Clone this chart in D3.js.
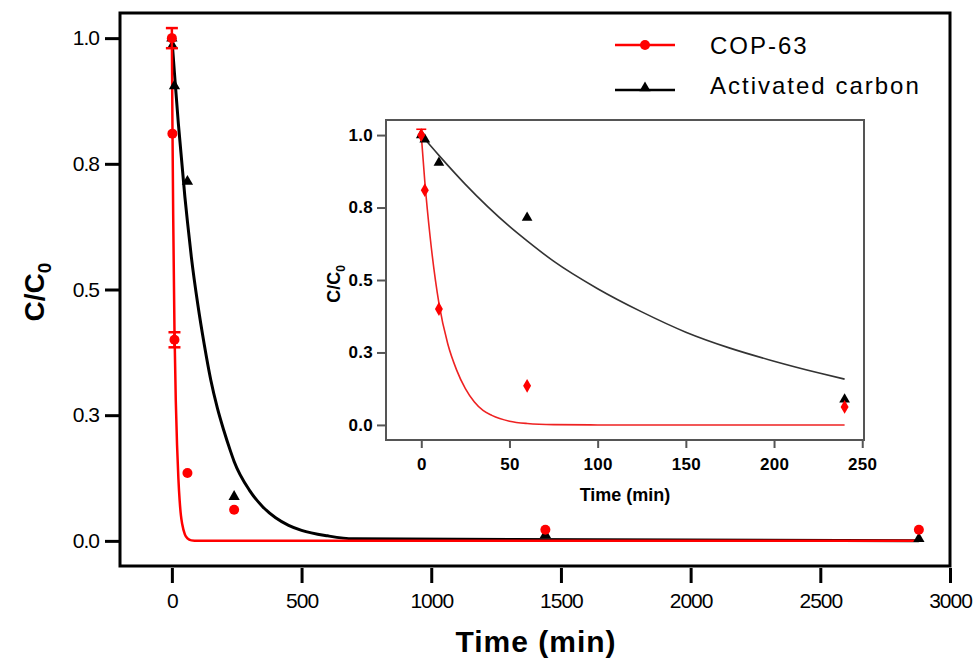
<!DOCTYPE html>
<head>
<meta charset="utf-8">
<title></title>
<style>
body { margin: 0; background: #fff; }
text { font-family: "Liberation Sans", Arial, sans-serif; fill: #000; }
.main-axis text { font-size: 21px; letter-spacing: -1px; }
.main-axis line { stroke: #000; stroke-width: 3px; }
.inset-axis text { font-size: 17px; font-weight: bold; letter-spacing: 0.3px; }
.inset-axis line { stroke: #555; stroke-width: 2px; }
</style>
</head>
<body>
<script src="https://cdn.jsdelivr.net/npm/d3@7/dist/d3.min.js"></script>
<script>

// measured points (time in min, C/C0)
var times = [0, 2, 10, 60, 240, 1440, 2880];
var copValues = [1.0, 0.81, 0.40, 0.135, 0.062, 0.022, 0.022];
var copErrors = [0.02, 0, 0.015, 0, 0, 0, 0];
var carbonValues = [1.0, 0.985, 0.905, 0.715, 0.088, 0.012, 0.004];

// fitted curves
var copFitTimes = [0, 2, 5, 10, 15, 20, 25, 30, 35, 40, 50, 60, 75, 100, 240, 2880];
var copFitValues = [1.0, 0.84, 0.65, 0.42, 0.28, 0.19, 0.125, 0.08, 0.05, 0.033, 0.013, 0.005, 0.001, 0, 0, 0];
var carbonFitTimes = [0, 10, 25, 50, 60, 75, 100, 125, 150, 175, 200, 225, 240, 300, 350, 400, 450, 500, 600, 700, 2880];
var carbonFitValues = [1.0, 0.93, 0.83, 0.685, 0.635, 0.565, 0.47, 0.39, 0.32, 0.265, 0.22, 0.18, 0.158, 0.1, 0.068, 0.046, 0.031, 0.021, 0.01, 0.004, 0];

// ticks
var yTicks = [0, 0.25, 0.5, 0.75, 1.0];
var yTickLabels = ["0.0", "0.3", "0.5", "0.8", "1.0"];
var mainXTicks = [0, 500, 1000, 1500, 2000, 2500, 3000];
var insetXTicks = [0, 50, 100, 150, 200, 250];

var seriesNames = ["COP-63", "Activated carbon"];

var width = 974, height = 659;

var svg = d3.select("body").append("svg")
    .attr("width", width)
    .attr("height", height);

function toPoints(ts, vs) {
  return ts.map(function(t, i) { return {t: t, v: vs[i]}; });
}
var copPts = times.map(function(t, i) { return {t: t, v: copValues[i], e: copErrors[i]}; });
var carbonPts = toPoints(times, carbonValues);
var copFit = toPoints(copFitTimes, copFitValues);
var carbonFit = toPoints(carbonFitTimes, carbonFitValues);

// ---------- main plot ----------
var x = d3.scaleLinear().domain([-200, 3000]).range([120, 950]);
var y = d3.scaleLinear().domain([-0.05, 1.05]).range([566, 13]);

svg.append("g")
    .attr("class", "main-axis")
    .attr("transform", "translate(0,568)")
    .call(d3.axisBottom(x).tickValues(mainXTicks).tickSize(15).tickPadding(10).tickFormat(d3.format("d")))
    .call(function(g) { g.select(".domain").remove(); });

svg.append("g")
    .attr("class", "main-axis")
    .attr("transform", "translate(120,0)")
    .call(d3.axisLeft(y).tickValues(yTicks).tickSize(15).tickPadding(6)
      .tickFormat(function(d, i) { return yTickLabels[i]; }))
    .call(function(g) { g.select(".domain").remove(); });

svg.append("rect")
    .attr("x", 120).attr("y", 13)
    .attr("width", 830).attr("height", 553)
    .attr("fill", "none")
    .attr("stroke", "#000")
    .attr("stroke-width", 3);

var mainLine = d3.line()
    .x(function(d) { return x(d.t); })
    .y(function(d) { return y(d.v); })
    .curve(d3.curveMonotoneX);

svg.append("path")
    .attr("d", mainLine(carbonFit))
    .attr("fill", "none")
    .attr("stroke", "#000")
    .attr("stroke-width", 3);

svg.append("path")
    .attr("d", mainLine(copFit))
    .attr("fill", "none")
    .attr("stroke", "#ff0000")
    .attr("stroke-width", 2.5);

var tri = d3.symbol().type(d3.symbolTriangle).size(55);

svg.append("g").selectAll("path")
    .data(carbonPts)
    .enter().append("path")
    .attr("d", tri)
    .attr("transform", function(d) { return "translate(" + x(d.t) + "," + y(d.v) + ")"; })
    .attr("fill", "#000");

var errMain = svg.append("g").selectAll("g")
    .data(copPts.filter(function(d) { return d.e > 0; }))
    .enter().append("g")
    .attr("stroke", "#ff0000")
    .attr("stroke-width", 2.5);
errMain.append("line")
    .attr("x1", function(d) { return x(d.t); })
    .attr("x2", function(d) { return x(d.t); })
    .attr("y1", function(d) { return y(d.v + d.e); })
    .attr("y2", function(d) { return y(d.v - d.e); });
errMain.append("line")
    .attr("x1", function(d) { return x(d.t) - 6; })
    .attr("x2", function(d) { return x(d.t) + 6; })
    .attr("y1", function(d) { return y(d.v + d.e); })
    .attr("y2", function(d) { return y(d.v + d.e); });
errMain.append("line")
    .attr("x1", function(d) { return x(d.t) - 6; })
    .attr("x2", function(d) { return x(d.t) + 6; })
    .attr("y1", function(d) { return y(d.v - d.e); })
    .attr("y2", function(d) { return y(d.v - d.e); });

svg.append("g").selectAll("circle")
    .data(copPts)
    .enter().append("circle")
    .attr("cx", function(d) { return x(d.t); })
    .attr("cy", function(d) { return y(d.v); })
    .attr("r", 5)
    .attr("fill", "#ff0000");

// axis titles
svg.append("text")
    .attr("x", 536).attr("y", 652)
    .attr("text-anchor", "middle")
    .style("font-size", "30px")
    .style("font-weight", "bold")
    .style("letter-spacing", "1px")
    .text("Time (min)");

var yTitle = svg.append("text")
    .attr("transform", "translate(44,292) rotate(-90)")
    .attr("text-anchor", "middle")
    .style("font-size", "28px")
    .style("font-weight", "bold");
yTitle.append("tspan").text("C/C");
yTitle.append("tspan").attr("dy", 7).style("font-size", "19px").text("0");

// legend
var legend = svg.append("g").attr("transform", "translate(615,0)");
legend.append("line").attr("x1", 0).attr("x2", 60).attr("y1", 45).attr("y2", 45)
    .attr("stroke", "#ff0000").attr("stroke-width", 2.5);
legend.append("circle").attr("cx", 30).attr("cy", 45).attr("r", 5).attr("fill", "#ff0000");
legend.append("line").attr("x1", 0).attr("x2", 60).attr("y1", 90).attr("y2", 90)
    .attr("stroke", "#000").attr("stroke-width", 2.5);
legend.append("path").attr("d", tri).attr("transform", "translate(30,88)").attr("fill", "#000");
legend.selectAll("text")
    .data(seriesNames)
    .enter().append("text")
    .attr("x", 95)
    .attr("y", function(d, i) { return 54 + i * 40; })
    .style("font-size", "24px")
    .style("letter-spacing", "2px")
    .text(function(d) { return d; });

// ---------- inset ----------
var ix = d3.scaleLinear().domain([-20, 251]).range([386, 864]);
var iy = d3.scaleLinear().domain([-0.052, 1.052]).range([440, 120]);

var inset = svg.append("g");

inset.append("rect")
    .attr("x", 386).attr("y", 120)
    .attr("width", 478).attr("height", 320)
    .attr("fill", "#fff")
    .attr("stroke", "#555")
    .attr("stroke-width", 2);

inset.append("g")
    .attr("class", "inset-axis")
    .attr("transform", "translate(0,440)")
    .call(d3.axisBottom(ix).tickValues(insetXTicks).tickSize(8).tickPadding(10))
    .call(function(g) { g.select(".domain").remove(); });

inset.append("g")
    .attr("class", "inset-axis")
    .attr("transform", "translate(386,0)")
    .call(d3.axisLeft(iy).tickValues(yTicks).tickSize(9).tickPadding(4)
      .tickFormat(function(d, i) { return yTickLabels[i]; }))
    .call(function(g) { g.select(".domain").remove(); });

var insetLine = d3.line()
    .x(function(d) { return ix(d.t); })
    .y(function(d) { return iy(d.v); })
    .curve(d3.curveMonotoneX);

function inRange(d) { return d.t <= 240; }

inset.append("path")
    .attr("d", insetLine(carbonFit.filter(inRange)))
    .attr("fill", "none")
    .attr("stroke", "#333")
    .attr("stroke-width", 1.6);

inset.append("path")
    .attr("d", insetLine(copFit.filter(inRange)))
    .attr("fill", "none")
    .attr("stroke", "#ee2222")
    .attr("stroke-width", 1.6);

inset.append("g").selectAll("path")
    .data(carbonPts.filter(inRange))
    .enter().append("path")
    .attr("d", d3.symbol().type(d3.symbolTriangle).size(50))
    .attr("transform", function(d) { return "translate(" + ix(d.t) + "," + iy(d.v) + ")"; })
    .attr("fill", "#000");

var errInset = inset.append("g").selectAll("g")
    .data(copPts.filter(function(d) { return d.e > 0 && d.t < 5; }))
    .enter().append("g")
    .attr("stroke", "#ff0000")
    .attr("stroke-width", 1.6);
errInset.append("line")
    .attr("x1", function(d) { return ix(d.t); })
    .attr("x2", function(d) { return ix(d.t); })
    .attr("y1", function(d) { return iy(d.v + d.e); })
    .attr("y2", function(d) { return iy(d.v - d.e); });
errInset.append("line")
    .attr("x1", function(d) { return ix(d.t) - 5; })
    .attr("x2", function(d) { return ix(d.t) + 5; })
    .attr("y1", function(d) { return iy(d.v + d.e); })
    .attr("y2", function(d) { return iy(d.v + d.e); });

inset.append("g").selectAll("path")
    .data(copPts.filter(inRange))
    .enter().append("path")
    .attr("d", d3.symbol().type(d3.symbolDiamond).size(55))
    .attr("transform", function(d) { return "translate(" + ix(d.t) + "," + iy(d.v) + ")"; })
    .attr("fill", "#ff0000");

inset.append("text")
    .attr("x", 625).attr("y", 501)
    .attr("text-anchor", "middle")
    .style("font-size", "18px")
    .style("font-weight", "bold")
    .text("Time (min)");

var iyTitle = inset.append("text")
    .attr("transform", "translate(340,284) rotate(-90)")
    .attr("text-anchor", "middle")
    .style("font-size", "18px")
    .style("font-weight", "bold");
iyTitle.append("tspan").text("C/C");
iyTitle.append("tspan").attr("dy", 5).style("font-size", "12px").text("0");

</script>
</body>
</html>
